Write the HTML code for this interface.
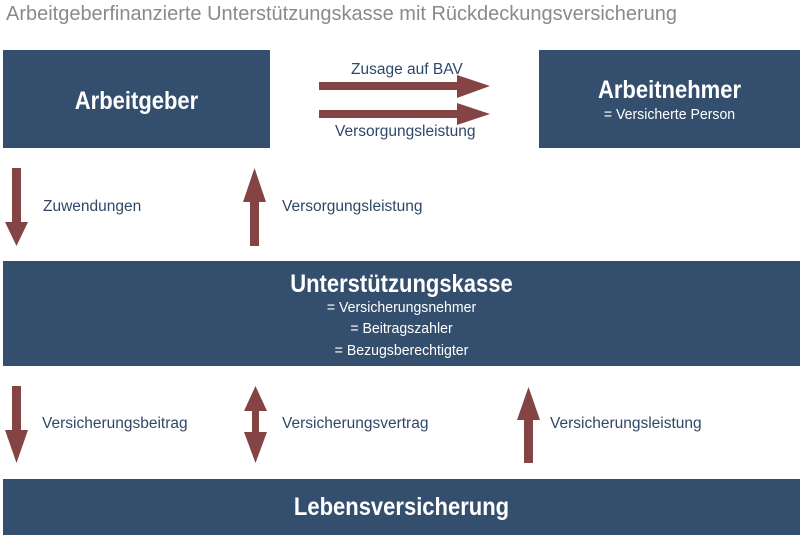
<!DOCTYPE html>
<html><head><meta charset="utf-8"><style>
body{margin:0;width:800px;height:535px;background:#fff;position:relative;overflow:hidden;font-family:"Liberation Sans",sans-serif;}
.box{position:absolute;background:#344f6d;color:#fff;text-align:center;}
.t{position:absolute;white-space:nowrap;color:#2e4868;font-size:15.5px;}
.c{position:absolute;left:0;right:0;text-align:center;white-space:nowrap;}
.b{font-size:25px;font-weight:bold;transform:scaleX(0.88);}
.s{font-size:15px;transform:scaleX(0.94);}
</style></head><body>
<div class="t" style="left:6px;top:2px;font-size:20.5px;color:#8a8a8a;transform:scaleX(0.975);transform-origin:left;">Arbeitgeberfinanzierte Unterstützungskasse mit Rückdeckungsversicherung</div>
<div class="box" style="left:3px;top:50px;width:267px;height:98px;"><div class="c b" style="top:37px;">Arbeitgeber</div></div>
<div class="box" style="left:539px;top:50px;width:261px;height:98px;"><div class="c b" style="top:26px;">Arbeitnehmer</div><div class="c s" style="top:56px;">= Versicherte Person</div></div>
<div class="box" style="left:3px;top:261px;width:797px;height:105px;">
<div class="c b" style="top:9px;">Unterstützungskasse</div>
<div class="c s" style="top:38px;">= Versicherungsnehmer</div>
<div class="c s" style="top:59px;">= Beitragszahler</div>
<div class="c s" style="top:81px;">= Bezugsberechtigter</div></div>
<div class="box" style="left:3px;top:479px;width:797px;height:56px;"><div class="c b" style="top:14px;">Lebensversicherung</div></div>
<svg width="800" height="535" style="position:absolute;left:0;top:0" fill="#844443">
<polygon points="319,82 457,82 457,75 490,86 457,98 457,90 319,90"/>
<polygon points="319,110 457,110 457,103 490,114 457,125 457,118 319,118"/>
<polygon points="12,168 21,168 21,222 28,222 16.5,246 5,222 12,222"/>
<polygon points="254.5,168 266,202 259,202 259,246 250,246 250,202 243,202"/>
<polygon points="12,386 21,386 21,430 28,430 16.5,463 5,430 12,430"/>
<polygon points="255.5,386 267,411 259,411 259,432 267,432 255.5,463 244,432 252,432 252,411 244,411"/>
<polygon points="528.5,387 540,420 533,420 533,463 524,463 524,420 517,420"/>
</svg>
<div class="t" style="left:351px;top:61px;">Zusage auf BAV</div>
<div class="t" style="left:335px;top:123px;">Versorgungsleistung</div>
<div class="t" style="left:43px;top:198px;">Zuwendungen</div>
<div class="t" style="left:282px;top:198px;">Versorgungsleistung</div>
<div class="t" style="left:42px;top:415px;">Versicherungsbeitrag</div>
<div class="t" style="left:282px;top:415px;">Versicherungsvertrag</div>
<div class="t" style="left:550px;top:415px;">Versicherungsleistung</div>
</body></html>
